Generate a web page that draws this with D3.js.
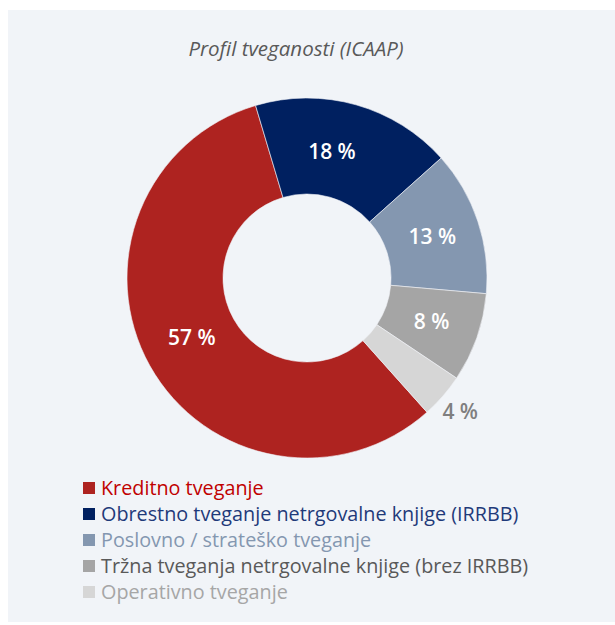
<!DOCTYPE html>
<html><head><meta charset="utf-8">
<script src="https://cdn.jsdelivr.net/npm/d3@7"></script>
<style>html,body{margin:0;padding:0;background:#fff;}svg{display:block;}</style>
</head><body>
<script>
const title = "Profil tveganosti (ICAAP)";
const categories = ["Kreditno tveganje","Obrestno tveganje netrgovalne knjige (IRRBB)","Poslovno / strateško tveganje","Tržna tveganja netrgovalne knjige (brez IRRBB)","Operativno tveganje"];
const values = [57, 18, 13, 8, 4];
const labels = ["57 %","18 %","13 %","8 %","4 %"];

const W = 615, H = 625;
const colors = ["#ae2320","#002060","#8497b0","#a5a5a5","#d6d6d6"];
const textColors = ["#c00000","#1f3a7a","#8497b0","#595959","#a6a6a6"];
const labelColors = ["#fff","#fff","#fff","#fff","#7f7f7f"];

const svg = d3.select("body").append("svg").attr("width", W).attr("height", H);
svg.append("rect").attr("x",8).attr("y",10).attr("width",W-8).attr("height",612).attr("fill","#f1f4f8");

svg.append("text").attr("x",296).attr("y",56).attr("text-anchor","middle")
  .attr("font-family","'Open Sans', sans-serif").attr("font-style","italic").attr("font-weight",400)
  .attr("font-size",20.5).attr("fill","#595959").text(title);

const cx = 307, cy = 278, rO = 180, rI = 84;
const startDeg = 138.2;
const pie = d3.pie().sort(null).value(d=>d)
  .startAngle(startDeg*Math.PI/180).endAngle((startDeg+360)*Math.PI/180);
const arcs = pie(values);
const arc = d3.arc().innerRadius(rI).outerRadius(rO);
const g = svg.append("g").attr("transform",`translate(${cx},${cy})`);
g.selectAll("path").data(arcs).join("path")
  .attr("d",arc).attr("fill",(d,i)=>colors[i])
  .attr("stroke","#f1f4f8").attr("stroke-width",0.6);

const inLabel = d3.arc().innerRadius((rI+rO)/2).outerRadius((rI+rO)/2);
const outLabel = d3.arc().innerRadius(203).outerRadius(203);
const nudge = [[0,-5],[-11,0],[0,0],[0,0],[0,0]];
g.selectAll("text.lbl").data(arcs).join("text").attr("class","lbl")
  .attr("transform",(d,i)=>{const c=(i===4?outLabel:inLabel).centroid(d);return `translate(${c[0]+nudge[i][0]},${c[1]+nudge[i][1]})`;})
  .attr("text-anchor","middle").attr("dy","0.36em")
  .attr("font-family","'Open Sans', sans-serif").attr("font-weight",600)
  .attr("font-size",21).attr("fill",(d,i)=>labelColors[i]).text((d,i)=>labels[i]);

const leg = svg.append("g").attr("transform","translate(83,0)");
const rows = leg.selectAll("g").data(categories).join("g")
  .attr("transform",(d,i)=>`translate(0,${488+i*26})`);
rows.append("rect").attr("x",0).attr("y",-6).attr("width",12).attr("height",12).attr("fill",(d,i)=>colors[i]);
rows.append("text").attr("x",18).attr("dy","0.35em")
  .attr("font-family","'Open Sans', sans-serif").attr("font-size",19.8)
  .attr("fill",(d,i)=>textColors[i]).text(d=>d);
</script>
</body></html>
